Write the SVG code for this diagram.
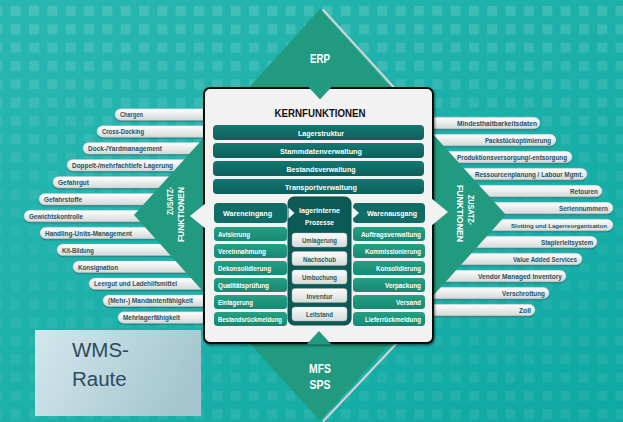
<svg xmlns="http://www.w3.org/2000/svg" width="623" height="422" viewBox="0 0 623 422">
<defs>
<linearGradient id="bg" x1="0" y1="0" x2="1" y2="1"><stop offset="0" stop-color="#2ab7b1"/><stop offset="1" stop-color="#0ea9a1"/></linearGradient>
<pattern id="sq" patternUnits="userSpaceOnUse" x="10.7" y="6" width="18.33" height="18.33"><rect width="10" height="10" fill="#fff"/></pattern>
<linearGradient id="fade" x1="0" y1="0" x2="0" y2="1"><stop offset="0" stop-color="#fff" stop-opacity="0.15"/><stop offset="0.3" stop-color="#fff" stop-opacity="0.09"/><stop offset="0.55" stop-color="#fff" stop-opacity="0.04"/><stop offset="1" stop-color="#fff" stop-opacity="0.08"/></linearGradient>
<mask id="m"><rect width="623" height="422" fill="url(#fade)"/></mask>
<linearGradient id="pg" x1="0" y1="0" x2="0" y2="1"><stop offset="0" stop-color="#ffffff"/><stop offset="1" stop-color="#d5d9d9"/></linearGradient>
<linearGradient id="wg" x1="0" y1="0" x2="1" y2="0.3"><stop offset="0" stop-color="#d4e7ec"/><stop offset="1" stop-color="#a6c7d0"/></linearGradient>
<linearGradient id="barg" x1="0" y1="0" x2="0" y2="1"><stop offset="0" stop-color="#157772"/><stop offset="1" stop-color="#0c5f5b"/></linearGradient>
<linearGradient id="itg" x1="0" y1="0" x2="0" y2="1"><stop offset="0" stop-color="#25a084"/><stop offset="1" stop-color="#178873"/></linearGradient>
<linearGradient id="btg" x1="0" y1="0" x2="0" y2="1"><stop offset="0" stop-color="#fbfbfb"/><stop offset="1" stop-color="#d8dada"/></linearGradient>
<filter id="sh" x="-5%" y="-30%" width="110%" height="180%"><feDropShadow dx="0" dy="1.2" stdDeviation="0.6" flood-color="#05534f" flood-opacity="0.6"/></filter>
<filter id="bsh" x="-5%" y="-5%" width="110%" height="110%"><feDropShadow dx="1" dy="1.5" stdDeviation="1" flood-color="#000" flood-opacity="0.5"/></filter>
<style>
.pill{fill:url(#pg);stroke:#b3c2c2;stroke-width:.4;filter:url(#sh)}
.pt{font-family:"Liberation Sans",Arial,sans-serif;font-weight:bold;font-size:7.6px;fill:#2b5261}
.bar{fill:url(#barg)}
.it{fill:url(#itg)}
.hd{fill:#106c66}
.bt{fill:url(#btg);stroke:#9fb3b2;stroke-width:.4}
.wt{font-family:"Liberation Sans",Arial,sans-serif;font-weight:bold;font-size:8px;fill:#fff}
.bt-t{font-family:"Liberation Sans",Arial,sans-serif;font-weight:bold;font-size:7.8px;fill:#1c5f5c}
.dl{font-family:"Liberation Sans",Arial,sans-serif;font-weight:bold;fill:#fff}
.dia{fill:#219a80}
</style>
</defs>

<g id="background">
<rect width="623" height="422" fill="url(#bg)"/>
<rect width="623" height="422" fill="url(#sq)" mask="url(#m)"/>
</g>

<g id="wms-raute">
<rect x="35" y="330" width="166" height="86" fill="url(#wg)"/>
<text x="72" y="357" font-family="'Liberation Sans',Arial,sans-serif" font-size="20.5" fill="#2e4a5e">WMS-</text>
<text x="72" y="386" font-family="'Liberation Sans',Arial,sans-serif" font-size="20.5" fill="#2e4a5e">Raute</text>
</g>

<g id="left-functions">
<g id="l-chargen"><rect class="pill" x="115" y="108.8" width="100" height="11.5" rx="5.75"/><text class="pt" x="120" y="117.2" textLength="23" lengthAdjust="spacingAndGlyphs">Chargen</text></g>
<g id="l-crossdocking"><rect class="pill" x="97" y="125.7" width="118" height="11.5" rx="5.75"/><text class="pt" x="102" y="134.1" textLength="42" lengthAdjust="spacingAndGlyphs">Cross-Docking</text></g>
<g id="l-dock"><rect class="pill" x="83" y="142.6" width="132" height="11.5" rx="5.75"/><text class="pt" x="88" y="151" textLength="74" lengthAdjust="spacingAndGlyphs">Dock-/Yardmanagement</text></g>
<g id="l-doppelt"><rect class="pill" x="67" y="159.5" width="148" height="11.5" rx="5.75"/><text class="pt" x="72" y="168" textLength="101" lengthAdjust="spacingAndGlyphs">Doppelt-/mehrfachtiefe Lagerung</text></g>
<g id="l-gefahrgut"><rect class="pill" x="53" y="176.5" width="162" height="11.5" rx="5.75"/><text class="pt" x="58" y="184.9" textLength="31" lengthAdjust="spacingAndGlyphs">Gefahrgut</text></g>
<g id="l-gefahrstoffe"><rect class="pill" x="39" y="193.4" width="176" height="11.5" rx="5.75"/><text class="pt" x="44" y="201.8" textLength="38" lengthAdjust="spacingAndGlyphs">Gefahrstoffe</text></g>
<g id="l-gewicht"><rect class="pill" x="24" y="210.3" width="191" height="11.5" rx="5.75"/><text class="pt" x="29" y="218.7" textLength="54" lengthAdjust="spacingAndGlyphs">Gewichtskontrolle</text></g>
<g id="l-handling"><rect class="pill" x="40" y="227.2" width="175" height="11.5" rx="5.75"/><text class="pt" x="45" y="235.6" textLength="87" lengthAdjust="spacingAndGlyphs">Handling-Units-Management</text></g>
<g id="l-kit"><rect class="pill" x="57" y="244.1" width="158" height="11.5" rx="5.75"/><text class="pt" x="62" y="252.6" textLength="32" lengthAdjust="spacingAndGlyphs">Kit-Bildung</text></g>
<g id="l-konsignation"><rect class="pill" x="73" y="261.1" width="142" height="11.5" rx="5.75"/><text class="pt" x="78" y="269.5" textLength="40" lengthAdjust="spacingAndGlyphs">Konsignation</text></g>
<g id="l-leergut"><rect class="pill" x="89" y="278" width="126" height="11.5" rx="5.75"/><text class="pt" x="94" y="286.4" textLength="83" lengthAdjust="spacingAndGlyphs">Leergut und Ladehilfsmittel</text></g>
<g id="l-mandanten"><rect class="pill" x="103" y="294.9" width="112" height="11.5" rx="5.75"/><text class="pt" x="108" y="303.3" textLength="85" lengthAdjust="spacingAndGlyphs">(Mehr-) Mandantenfähigkeit</text></g>
<g id="l-mehrlager"><rect class="pill" x="118" y="311.8" width="97" height="11.5" rx="5.75"/><text class="pt" x="123" y="320.2" textLength="57" lengthAdjust="spacingAndGlyphs">Mehrlagerfähigkeit</text></g>
</g>

<g id="right-functions">
<g id="r-mhd"><rect class="pill" x="425" y="117.25" width="115" height="11.5" rx="5.75"/><text class="pt" x="537" y="125.7" text-anchor="end" textLength="80" lengthAdjust="spacingAndGlyphs">Mindesthaltbarkeitsdaten</text></g>
<g id="r-pack"><rect class="pill" x="425" y="134.25" width="131" height="11.5" rx="5.75"/><text class="pt" x="551" y="142.7" text-anchor="end" textLength="66" lengthAdjust="spacingAndGlyphs">Packstückoptimierung</text></g>
<g id="r-prod"><rect class="pill" x="425" y="151.25" width="147" height="11.5" rx="5.75"/><text class="pt" x="567" y="159.7" text-anchor="end" textLength="110" lengthAdjust="spacingAndGlyphs">Produktionsversorgung/-entsorgung</text></g>
<g id="r-ress"><rect class="pill" x="425" y="168.25" width="162" height="11.5" rx="5.75"/><text class="pt" x="583" y="176.7" text-anchor="end" textLength="108" lengthAdjust="spacingAndGlyphs">Ressourcenplanung / Labour Mgmt.</text></g>
<g id="r-retouren"><rect class="pill" x="425" y="185.25" width="177" height="11.5" rx="5.75"/><text class="pt" x="598" y="193.7" text-anchor="end" textLength="28" lengthAdjust="spacingAndGlyphs">Retouren</text></g>
<g id="r-serien"><rect class="pill" x="425" y="202.25" width="188" height="11.5" rx="5.75"/><text class="pt" x="608" y="210.7" text-anchor="end" textLength="49" lengthAdjust="spacingAndGlyphs">Seriennummern</text></g>
<g id="r-slotting"><rect class="pill" x="425" y="219.25" width="188" height="11.5" rx="5.75"/><text class="pt" x="607" y="227.5" text-anchor="end" style="font-size:6.1px" textLength="96" lengthAdjust="spacingAndGlyphs">Slotting und Lagerreorganisation</text></g>
<g id="r-stapler"><rect class="pill" x="425" y="236.25" width="172" height="11.5" rx="5.75"/><text class="pt" x="593" y="244.7" text-anchor="end" textLength="52" lengthAdjust="spacingAndGlyphs">Staplerleitsystem</text></g>
<g id="r-vas"><rect class="pill" x="425" y="253.25" width="157" height="11.5" rx="5.75"/><text class="pt" x="577" y="261.7" text-anchor="end" textLength="64" lengthAdjust="spacingAndGlyphs">Value Added Services</text></g>
<g id="r-vmi"><rect class="pill" x="425" y="270.25" width="141" height="11.5" rx="5.75"/><text class="pt" x="562" y="278.7" text-anchor="end" textLength="84" lengthAdjust="spacingAndGlyphs">Vendor Managed Inventory</text></g>
<g id="r-verschrottung"><rect class="pill" x="425" y="287.25" width="124" height="11.5" rx="5.75"/><text class="pt" x="545" y="295.7" text-anchor="end" textLength="43" lengthAdjust="spacingAndGlyphs">Verschrottung</text></g>
<g id="r-zoll"><rect class="pill" x="425" y="304.25" width="110" height="11.5" rx="5.75"/><text class="pt" x="531" y="312.7" text-anchor="end" textLength="12" lengthAdjust="spacingAndGlyphs">Zoll</text></g>
</g>

<g id="raute">
<polygon class="dia" points="320,9 506,215 320,421 134,215"/>
<line x1="322.8" y1="9.5" x2="394.5" y2="88" stroke="#d2d2d2" stroke-width="2.2"/>
<line x1="323" y1="421.5" x2="397" y2="343" stroke="#d2d2d2" stroke-width="2.2"/>
</g>

<g id="kernfunktionen">
<rect x="204" y="88" width="229" height="255" rx="6" fill="#f2f2f2" stroke="#111" stroke-width="2" filter="url(#bsh)"/>
<polygon class="dia" points="308,86.5 332,86.5 320,99.5"/>
<polygon class="dia" points="306.5,344.5 331.5,344.5 319,331"/>
<polygon fill="#f2f2f2" points="206,203 190,216 206,229"/>
<polygon fill="#f2f2f2" points="431,198 448,212 431,226"/>
<text x="320" y="117" text-anchor="middle" font-family="'Liberation Sans',Arial,sans-serif" font-weight="bold" font-size="11" fill="#111" textLength="91" lengthAdjust="spacingAndGlyphs">KERNFUNKTIONEN</text>
<g id="lagerstruktur"><rect class="bar" x="213" y="125" width="211" height="15" rx="4"/><text class="wt" x="321" y="135.5" text-anchor="middle" textLength="46" lengthAdjust="spacingAndGlyphs">Lagerstruktur</text></g>
<g id="stammdaten"><rect class="bar" x="213" y="143" width="211" height="15" rx="4"/><text class="wt" x="321" y="153.5" text-anchor="middle" textLength="82" lengthAdjust="spacingAndGlyphs">Stammdatenverwaltung</text></g>
<g id="bestand"><rect class="bar" x="213" y="161" width="211" height="15" rx="4"/><text class="wt" x="321" y="171.5" text-anchor="middle" textLength="69" lengthAdjust="spacingAndGlyphs">Bestandsverwaltung</text></g>
<g id="transport"><rect class="bar" x="213" y="179" width="211" height="15" rx="4"/><text class="wt" x="321" y="189.5" text-anchor="middle" textLength="72" lengthAdjust="spacingAndGlyphs">Transportverwaltung</text></g>

<g id="wareneingang">
<rect class="hd" x="214" y="203" width="73" height="20" rx="4"/>
<text class="wt" x="247.5" y="216" text-anchor="middle" font-size="8.5" textLength="49" lengthAdjust="spacingAndGlyphs">Wareneingang</text>
<rect class="it" x="214" y="227" width="73" height="14" rx="3.5"/><text class="wt" x="218" y="237.2" font-size="7.5" textLength="32" lengthAdjust="spacingAndGlyphs">Avisierung</text>
<rect class="it" x="214" y="244" width="73" height="14" rx="3.5"/><text class="wt" x="218" y="254.2" font-size="7.5" textLength="48" lengthAdjust="spacingAndGlyphs">Vereinnahmung</text>
<rect class="it" x="214" y="261" width="73" height="14" rx="3.5"/><text class="wt" x="218" y="271.2" font-size="7.5" textLength="53" lengthAdjust="spacingAndGlyphs">Dekonsolidierung</text>
<rect class="it" x="214" y="278" width="73" height="14" rx="3.5"/><text class="wt" x="218" y="288.2" font-size="7.5" textLength="51" lengthAdjust="spacingAndGlyphs">Qualitätsprüfung</text>
<rect class="it" x="214" y="295" width="73" height="14" rx="3.5"/><text class="wt" x="218" y="305.2" font-size="7.5" textLength="35" lengthAdjust="spacingAndGlyphs">Einlagerung</text>
<rect class="it" x="214" y="312" width="73" height="14" rx="3.5"/><text class="wt" x="218" y="322.2" font-size="7.5" textLength="64" lengthAdjust="spacingAndGlyphs">Bestandsrückmeldung</text>
</g>

<g id="lagerinterne-prozesse">
<rect x="288" y="197" width="63" height="128" rx="6" fill="#0c5a57" stroke="#094c49" stroke-width="1"/>
<text class="wt" x="319.5" y="213" text-anchor="middle" textLength="41" lengthAdjust="spacingAndGlyphs">lagerinterne</text>
<text class="wt" x="319.5" y="224.5" text-anchor="middle" textLength="29" lengthAdjust="spacingAndGlyphs">Prozesse</text>
<rect class="bt" x="292" y="233" width="55" height="14" rx="3"/><text class="bt-t" x="319.5" y="243" text-anchor="middle" textLength="35" lengthAdjust="spacingAndGlyphs">Umlagerung</text>
<rect class="bt" x="292" y="251.5" width="55" height="14" rx="3"/><text class="bt-t" x="319.5" y="261.5" text-anchor="middle" textLength="33" lengthAdjust="spacingAndGlyphs">Nachschub</text>
<rect class="bt" x="292" y="270" width="55" height="14" rx="3"/><text class="bt-t" x="319.5" y="280" text-anchor="middle" textLength="35" lengthAdjust="spacingAndGlyphs">Umbuchung</text>
<rect class="bt" x="292" y="288.5" width="55" height="14" rx="3"/><text class="bt-t" x="319.5" y="298.5" text-anchor="middle" textLength="26" lengthAdjust="spacingAndGlyphs">Inventur</text>
<rect class="bt" x="292" y="307" width="55" height="14" rx="3"/><text class="bt-t" x="319.5" y="317" text-anchor="middle" textLength="27" lengthAdjust="spacingAndGlyphs">Leitstand</text>
</g>

<g id="warenausgang">
<rect class="hd" x="353" y="203" width="72" height="20" rx="4"/>
<text class="wt" x="392" y="216" text-anchor="middle" font-size="8.5" textLength="50" lengthAdjust="spacingAndGlyphs">Warenausgang</text>
<rect class="it" x="353" y="227" width="72" height="14" rx="3.5"/><text class="wt" x="421" y="237.2" font-size="7.5" text-anchor="end" textLength="60" lengthAdjust="spacingAndGlyphs">Auftragsverwaltung</text>
<rect class="it" x="353" y="244" width="72" height="14" rx="3.5"/><text class="wt" x="421" y="254.2" font-size="7.5" text-anchor="end" textLength="56" lengthAdjust="spacingAndGlyphs">Kommissionierung</text>
<rect class="it" x="353" y="261" width="72" height="14" rx="3.5"/><text class="wt" x="421" y="271.2" font-size="7.5" text-anchor="end" textLength="45" lengthAdjust="spacingAndGlyphs">Konsolidierung</text>
<rect class="it" x="353" y="278" width="72" height="14" rx="3.5"/><text class="wt" x="421" y="288.2" font-size="7.5" text-anchor="end" textLength="36" lengthAdjust="spacingAndGlyphs">Verpackung</text>
<rect class="it" x="353" y="295" width="72" height="14" rx="3.5"/><text class="wt" x="421" y="305.2" font-size="7.5" text-anchor="end" textLength="25" lengthAdjust="spacingAndGlyphs">Versand</text>
<rect class="it" x="353" y="312" width="72" height="14" rx="3.5"/><text class="wt" x="421" y="322.2" font-size="7.5" text-anchor="end" textLength="56" lengthAdjust="spacingAndGlyphs">Lieferrückmeldung</text>
</g>
</g>

<g id="connectors">
<polygon fill="#f2f2f2" points="288.5,207.5 294.5,213 288.5,218.5"/>
<polygon fill="#f2f2f2" points="353,207.5 359,213 353,218.5"/>
</g>

<g id="raute-labels">
<g id="erp"><text class="dl" x="320" y="62.5" font-size="13" text-anchor="middle" textLength="20" lengthAdjust="spacingAndGlyphs">ERP</text></g>
<g id="mfs-sps"><text class="dl" x="320" y="373" font-size="13" text-anchor="middle" textLength="22" lengthAdjust="spacingAndGlyphs">MFS</text><text class="dl" x="320" y="389" font-size="13" text-anchor="middle" textLength="21" lengthAdjust="spacingAndGlyphs">SPS</text></g>
<g id="zusatz-links"><text class="dl" transform="rotate(-90)" x="-187" y="172.5" font-size="8.5" text-anchor="end" textLength="28" lengthAdjust="spacingAndGlyphs">ZUSATZ-</text><text class="dl" transform="rotate(-90)" x="-187" y="183.5" font-size="8.5" text-anchor="end" textLength="55" lengthAdjust="spacingAndGlyphs">FUNKTIONEN</text></g>
<g id="zusatz-rechts"><text class="dl" transform="rotate(90)" x="210" y="-468" font-size="8.5" text-anchor="middle" textLength="30" lengthAdjust="spacingAndGlyphs">ZUSATZ-</text><text class="dl" transform="rotate(90)" x="213.5" y="-457" font-size="8.5" text-anchor="middle" textLength="57" lengthAdjust="spacingAndGlyphs">FUNKTIONEN</text></g>
</g>
</svg>
